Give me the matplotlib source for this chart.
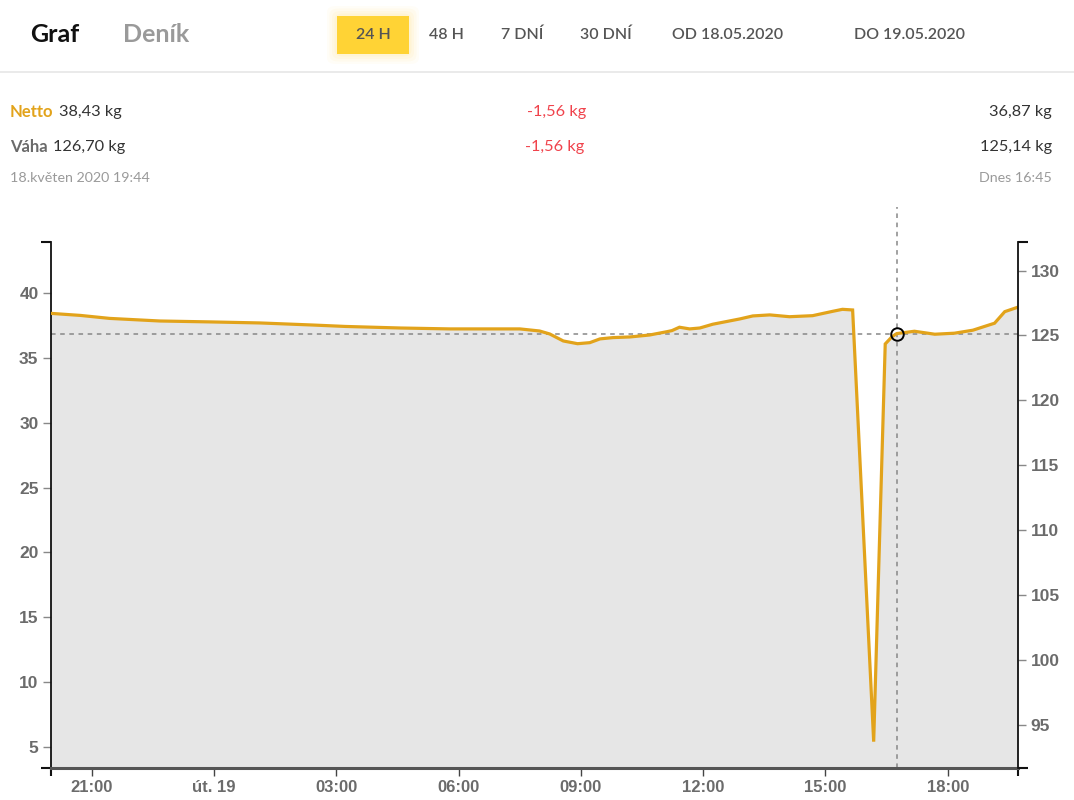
import matplotlib
matplotlib.use("Agg")
import matplotlib.pyplot as plt
import matplotlib.dates as mdates
from matplotlib.patches import FancyBboxPatch, Rectangle
from datetime import datetime
import numpy as np

# ---------------- data ----------------
times = ["2020-05-18 19:59", "2020-05-18 20:43", "2020-05-18 21:26", "2020-05-18 22:40",
         "2020-05-18 23:54", "2020-05-19 01:07", "2020-05-19 02:25", "2020-05-19 03:13",
         "2020-05-19 04:34", "2020-05-19 05:47", "2020-05-19 06:46", "2020-05-19 07:30",
         "2020-05-19 07:59", "2020-05-19 08:14", "2020-05-19 08:34", "2020-05-19 08:55",
         "2020-05-19 09:13", "2020-05-19 09:28", "2020-05-19 09:47", "2020-05-19 10:12",
         "2020-05-19 10:41", "2020-05-19 11:07", "2020-05-19 11:14", "2020-05-19 11:25",
         "2020-05-19 11:40", "2020-05-19 11:55", "2020-05-19 12:14", "2020-05-19 12:54",
         "2020-05-19 13:13", "2020-05-19 13:38", "2020-05-19 14:07", "2020-05-19 14:41",
         "2020-05-19 15:11", "2020-05-19 15:25", "2020-05-19 15:40", "2020-05-19 16:11",
         "2020-05-19 16:28", "2020-05-19 16:38", "2020-05-19 16:45", "2020-05-19 17:11",
         "2020-05-19 17:41", "2020-05-19 18:10", "2020-05-19 18:37", "2020-05-19 19:09",
         "2020-05-19 19:24", "2020-05-19 19:43"]
netto = [38.43, 38.27, 38.04, 37.84, 37.77, 37.69, 37.53, 37.42,
         37.30, 37.23, 37.23, 37.23, 37.07, 36.84, 36.30, 36.09,
         36.17, 36.46, 36.56, 36.61, 36.76, 37.02, 37.10, 37.36,
         37.23, 37.30, 37.59, 38.00, 38.23, 38.31, 38.17, 38.25,
         38.59, 38.74, 38.69, 5.41, 36.07, 36.63, 36.87, 37.05,
         36.82, 36.90, 37.13, 37.67, 38.56, 38.90]
tare_offset = 88.27  # Váha = Netto + offset

left_ticks = [5, 10, 15, 20, 25, 30, 35, 40]
right_ticks = [95, 100, 105, 110, 115, 120, 125, 130]
x_tick_times = ["2020-05-18 21:00", "2020-05-19 00:00", "2020-05-19 03:00", "2020-05-19 06:00",
                "2020-05-19 09:00", "2020-05-19 12:00", "2020-05-19 15:00", "2020-05-19 18:00"]
x_tick_labels = ["21:00", "út. 19", "03:00", "06:00", "09:00", "12:00", "15:00", "18:00"]

cursor_time = "2020-05-19 16:45"
cursor_value = 36.87

x_start = "2020-05-18 19:59:40"
x_end = "2020-05-19 19:43:30"
y_min, y_max = 3.38, 43.93

nav_labels = ["24 H", "48 H", "7 DNÍ", "30 DNÍ", "OD 18.05.2020", "DO 19.05.2020"]

# ---------------- figure ----------------
W, H = 1074, 800
fig = plt.figure(figsize=(W / 100, H / 100), dpi=100)
fig.patch.set_facecolor("white")

def fx(px):
    return px / W

def fy(py):
    return 1 - py / H

HEAD = "Lato"
ORANGE = "#E2A31B"

# header
fig.text(fx(30), fy(35), "Graf", fontsize=18, fontweight="bold", color="#111111",
         family=HEAD, va="center", ha="left")
fig.text(fx(123), fy(35), "Deník", fontsize=18, fontweight="bold", color="#9a9a9a",
         family=HEAD, va="center", ha="left")

# glow + yellow button
for i, a in enumerate([0.04, 0.05, 0.06, 0.08]):
    g = 10 - i * 2.5
    fig.patches.append(FancyBboxPatch((fx(337 - g), fy(54 + g)), fx(72 + 2 * g), (38 + 2 * g) / H,
                                      boxstyle="round,pad=0,rounding_size=0.008",
                                      transform=fig.transFigure, facecolor="#ffd43b",
                                      edgecolor="none", alpha=a, zorder=0))
fig.patches.append(Rectangle((fx(337), fy(54)), fx(72), 38 / H, transform=fig.transFigure,
                             facecolor="#ffd335", edgecolor="none", zorder=1))
nav_x = [373, 446, 522, 606, 728, 909]
for lab, xx in zip(nav_labels, nav_x):
    fig.text(fx(xx), fy(35), lab, fontsize=11.5, color="#555555", family=HEAD,
             fontweight="semibold", va="center", ha="center", zorder=2)

# separator
fig.add_artist(plt.Line2D([0, 1], [fy(72), fy(72)], transform=fig.transFigure,
                          color="#e6e6e6", lw=1.2))

# info rows
def label_value(x, y, lab, col, val):
    t = fig.text(fx(x), fy(y), lab, fontsize=12, fontweight="bold", color=col,
                 family=HEAD, va="center", ha="left")
    fig.canvas.draw()
    bb = t.get_window_extent()
    fig.text(bb.x1 / W + fx(5), fy(y), val, fontsize=11.8, color="#333333",
             family=HEAD, va="center", ha="left")

label_value(10, 112, "Netto", ORANGE, "38,43 kg")
label_value(10, 147, "Váha", "#6a6a6a", "126,70 kg")
fig.text(fx(10), fy(178), "18.květen 2020 19:44", fontsize=10.3, color="#9a9a9a",
         family=HEAD, va="center", ha="left")

fig.text(fx(557), fy(112), "-1,56 kg", fontsize=11.8, color="#f0434c", family=HEAD,
         va="center", ha="center")
fig.text(fx(555), fy(147), "-1,56 kg", fontsize=11.8, color="#f0434c", family=HEAD,
         va="center", ha="center")
fig.text(fx(1052), fy(112), "36,87 kg", fontsize=11.8, color="#333333", family=HEAD,
         va="center", ha="right")
fig.text(fx(1052), fy(147), "125,14 kg", fontsize=11.8, color="#333333", family=HEAD,
         va="center", ha="right")
fig.text(fx(1052), fy(178), "Dnes 16:45", fontsize=10.3, color="#9a9a9a", family=HEAD,
         va="center", ha="right")

# ---------------- chart ----------------
ax = fig.add_axes([fx(51), 32 / H, fx(967), 526 / H])
ax.set_facecolor("white")

t = [datetime.strptime(s, "%Y-%m-%d %H:%M") for s in times]
tn = mdates.date2num(t)
ax.fill_between(tn, netto, y_min, color="#e6e6e6", lw=0, zorder=1)
ax.plot(tn, netto, color=ORANGE, lw=2.3, zorder=3, solid_joinstyle="miter")

ct = mdates.date2num(datetime.strptime(cursor_time, "%Y-%m-%d %H:%M"))
ax.axhline(cursor_value, color="#888888", lw=1.1, ls=(0, (3, 3)), zorder=2)
ax.axvline(ct, ymin=0, ymax=(768 - 207) / 526, color="#888888", lw=1.1, ls=(0, (3, 3)),
           zorder=2, clip_on=False)
ax.plot([ct], [cursor_value], marker="o", ms=9, mfc="none", mec="black", mew=1.4, zorder=4)

xs = mdates.date2num(datetime.strptime(x_start, "%Y-%m-%d %H:%M:%S"))
xe = mdates.date2num(datetime.strptime(x_end, "%Y-%m-%d %H:%M:%S"))
ax.set_xlim(xs, xe)
ax.set_ylim(y_min, y_max)

TICKC = "#6b6b6b"
xt = [mdates.date2num(datetime.strptime(s, "%Y-%m-%d %H:%M")) for s in x_tick_times]
ax.set_xticks(xt)
ax.set_xticklabels(x_tick_labels, family="Liberation Sans", fontweight="bold",
                   fontsize=12, color=TICKC)
ax.set_xticks([xs, xe], minor=True)
ax.set_yticks(left_ticks)
ax.set_yticklabels([str(v) for v in left_ticks], family="Liberation Sans", fontweight="bold",
                   fontsize=12.5, color=TICKC)
ax.set_yticks([y_min, y_max], minor=True)

ax.tick_params(axis="x", which="major", length=6, width=1, color="#444444", pad=3)
ax.tick_params(axis="x", which="minor", length=6, width=1.5, color="#111111")
ax.tick_params(axis="y", which="major", length=6, width=1, color="#888888", pad=3)
ax.tick_params(axis="y", which="minor", length=7, width=1.5, color="#111111")

ax.spines["top"].set_visible(False)
ax.spines["right"].set_visible(False)
ax.spines["left"].set_color("#111111")
ax.spines["left"].set_linewidth(1.3)
ax.spines["bottom"].set_color("#555555")
ax.spines["bottom"].set_linewidth(2.2)

ax2 = ax.twinx()
ax2.set_ylim(y_min + tare_offset, y_max + tare_offset)
ax2.set_yticks(right_ticks)
ax2.set_yticklabels([str(v) for v in right_ticks], family="Liberation Sans", fontweight="bold",
                    fontsize=12.5, color=TICKC)
ax2.set_yticks([y_min + tare_offset, y_max + tare_offset], minor=True)
ax2.tick_params(axis="y", which="major", length=6, width=1, color="#888888", pad=3)
ax2.tick_params(axis="y", which="minor", length=7, width=1.5, color="#111111")
for s in ["top", "left", "bottom"]:
    ax2.spines[s].set_visible(False)
ax2.spines["right"].set_color("#111111")
ax2.spines["right"].set_linewidth(1.3)

fig.savefig("out.png", dpi=100, facecolor="white")
